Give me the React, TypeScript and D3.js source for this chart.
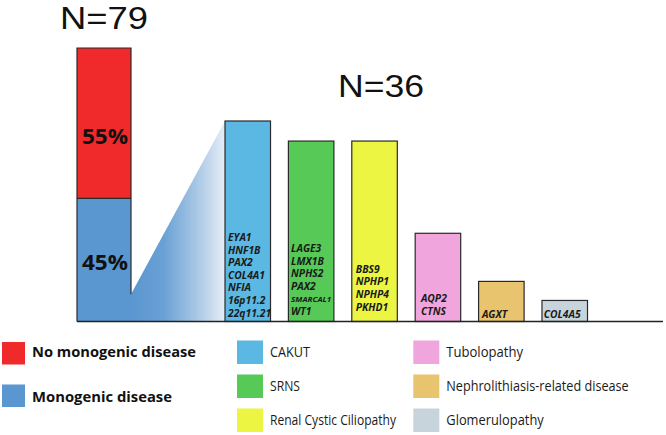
import React from "react";
import * as d3 from "d3";

// ---- data ----
const overallTitle = "N=79";
const overallCategories = ["No monogenic disease", "Monogenic disease"];
const overallPercent = [55, 45];
const overallColors = ["#f0292a", "#5a96cf"];

const diseaseTitle = "N=36";
const diseaseCategories = [
  "CAKUT",
  "SRNS",
  "Renal Cystic Ciliopathy",
  "Tubolopathy",
  "Nephrolithiasis-related disease",
  "Glomerulopathy",
];
const diseaseValues = [10, 9, 9, 4.4, 2, 1.05];
const diseaseColors = ["#5bb8e2", "#57c957", "#ecf542", "#f0a6dd", "#e7c46d", "#c7d4dc"];
const diseaseGenes = [
  ["EYA1", "HNF1B", "PAX2", "COL4A1", "NFIA", "16p11.2", "22q11.21"],
  ["LAGE3", "LMX1B", "NPHS2", "PAX2", "SMARCAL1", "WT1"],
  ["BBS9", "NPHP1", "NPHP4", "PKHD1"],
  ["AQP2", "CTNS"],
  ["AGXT"],
  ["COL4A5"],
];

// ---- layout ----
const W = 666;
const H = 435;
const FONT = "'Open Sans', 'DejaVu Sans', sans-serif";
const TITLE_FONT = "'Liberation Sans', Arial, sans-serif";
const baseY = 321.5;
const leftX0 = 77;
const leftX1 = 131;
const notchPct = 10;
const pctLabelAt = [65, 19];
const labelGap = [5, 6.5, 11, 6.5, 3.5, 4];
const labelPad = [3, 2.7, 4, 5.7, 3.3, 1.7];
const legendLeftWidths = [164, 140];
const legendRightWidths = [40, 30, 126, 76.7, 182.4, 97.4];

export default function App() {
  const yPct = d3.scaleLinear().domain([0, 100]).range([baseY, 48]);
  const yR = d3.scaleLinear().domain([0, 10]).range([baseY, 121]);
  const x = d3
    .scaleBand<string>()
    .domain(diseaseCategories)
    .range([225, 587.5])
    .paddingInner(0.282)
    .paddingOuter(0);

  // stacked: last category at bottom
  const segs = overallCategories.map((c, i) => {
    const lower = overallPercent.slice(i + 1).reduce((a, b) => a + b, 0);
    return { cat: c, y0: lower, y1: lower + overallPercent[i], color: overallColors[i] };
  });

  const firstX = x(diseaseCategories[0])!;
  const polyPts: [number, number][] = [
    [leftX1, yPct(notchPct)],
    [firstX, yR(diseaseValues[0])],
    [firstX, baseY],
    [leftX1, baseY],
  ];
  const poly = d3.line()(polyPts.concat([polyPts[0]])) as string;

  const outline = "#2a2a2a";

  return (
    <svg
      width={W}
      height={H}
      style={{ position: "absolute", left: 0, top: 0, background: "#fff" }}
      fontFamily={FONT}
    >
      <defs>
        <linearGradient id="fan" x1={leftX1} x2={firstX} y1={0} y2={0} gradientUnits="userSpaceOnUse">
          <stop offset="0" stopColor="#5a96cf" />
          <stop offset="0.35" stopColor="#6aa1d5" />
          <stop offset="0.7" stopColor="#a9c7e5" />
          <stop offset="1" stopColor="#e6eef7" />
        </linearGradient>
      </defs>

      {/* titles */}
      <text x={(leftX0 + leftX1) / 2} y={28.5} textAnchor="middle" fontFamily={TITLE_FONT} fontSize={31} textLength={88} lengthAdjust="spacingAndGlyphs" fill="#111">
        {overallTitle}
      </text>
      <text x={381} y={96.7} textAnchor="middle" fontFamily={TITLE_FONT} fontSize={32} textLength={86} lengthAdjust="spacingAndGlyphs" fill="#111">
        {diseaseTitle}
      </text>

      {/* fan polygon */}
      <path d={poly} fill="url(#fan)" />

      {/* stacked left bar */}
      {segs.map((s) => (
        <rect
          key={s.cat}
          x={leftX0}
          y={yPct(s.y1)}
          width={leftX1 - leftX0}
          height={yPct(s.y0) - yPct(s.y1)}
          fill={s.color}
        />
      ))}
      <path
        d={d3.line()([
          [leftX0, baseY],
          [leftX0, yPct(100)],
          [leftX1, yPct(100)],
          [leftX1, yPct(notchPct)],
        ]) as string}
        fill="none"
        stroke={outline}
        strokeWidth={1.2}
      />
      <line x1={leftX0} x2={leftX1} y1={yPct(segs[1].y1)} y2={yPct(segs[1].y1)} stroke={outline} strokeWidth={1.2} />
      {segs.map((s, i) => (
        <text
          key={s.cat + "l"}
          x={(leftX0 + leftX1) / 2 + 1}
          y={yPct(pctLabelAt[i])}
          textAnchor="middle"
          fontSize={21}
          fontWeight="bold"
          textLength={46}
          lengthAdjust="spacingAndGlyphs"
          fill="#111"
        >
          {overallPercent[i] + "%"}
        </text>
      ))}

      {/* disease bars */}
      {diseaseCategories.map((c, i) => (
        <g key={c}>
          <rect
            x={x(c)}
            y={yR(diseaseValues[i])}
            width={x.bandwidth()}
            height={baseY - yR(diseaseValues[i])}
            fill={diseaseColors[i]}
            stroke={outline}
            strokeWidth={1.2}
          />
          {diseaseGenes[i].map((g, j) => {
            const n = diseaseGenes[i].length;
            const small = g === "SMARCAL1";
            return (
              <text
                key={g + j}
                x={x(c)! + labelPad[i]}
                y={baseY - labelGap[i] - (n - 1 - j) * 12.6}
                fontSize={small ? 7.6 : 10.3}
                fontWeight="bold"
                fontStyle="italic"
                fill="#1a1a1a"
                textLength={small ? 40 : undefined}
                lengthAdjust={small ? "spacingAndGlyphs" : undefined}
              >
                {g}
              </text>
            );
          })}
        </g>
      ))}

      {/* baseline */}
      <line x1={leftX0} x2={663} y1={baseY} y2={baseY} stroke="#222" strokeWidth={1.5} />

      {/* legend left */}
      {overallCategories.map((c, i) => (
        <g key={c + "leg"}>
          <rect x={2} y={342 + i * 42.5} width={23} height={22.5} fill={overallColors[i]} />
          <text
            x={32}
            y={357 + i * 45}
            fontSize={15}
            fontWeight="bold"
            fill="#111"
            textLength={legendLeftWidths[i]}
            lengthAdjust="spacingAndGlyphs"
          >
            {c}
          </text>
        </g>
      ))}

      {/* legend right */}
      {diseaseCategories.map((c, i) => {
        const col = Math.floor(i / 3);
        const row = i % 3;
        const sx = col === 0 ? 237 : 413.3;
        return (
          <g key={c + "leg"}>
            <rect x={sx} y={340.5 + row * 34} width={26} height={23.5} fill={diseaseColors[i]} />
            <text
              x={sx + 33}
              y={357.3 + row * 34}
              fontSize={15}
              fill="#1a1a1a"
              textLength={legendRightWidths[i]}
              lengthAdjust="spacingAndGlyphs"
            >
              {c}
            </text>
          </g>
        );
      })}
    </svg>
  );
}
